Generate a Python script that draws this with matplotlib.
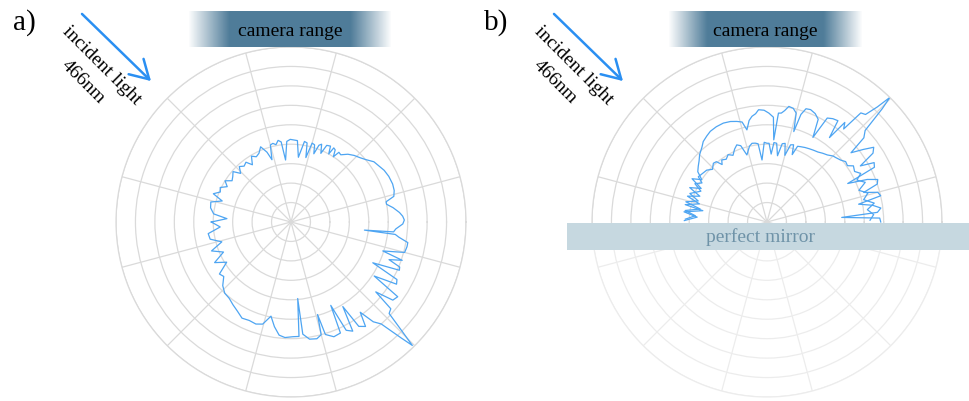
import numpy as np
import matplotlib
matplotlib.use('Agg')
import matplotlib.pyplot as plt
from matplotlib.patches import Rectangle, FancyArrowPatch

# ---- data (angle in deg, radius in ring units, outer ring = 9) ----
a_theta = [-180, -176, -172, -168, -164, -160, -156, -152, -148, -144, -141, -137, -133, -129,
           -125, -121, -117, -113, -109, -105.5, -102, -99, -96, -93, -89, -86, -85, -84, -81,
           -77.5, -75, -74, -73, -69.5, -66, -64.5, -63, -60.5, -58.5, -57, -54.5, -52.5, -50.5,
           -48.5, -46.5, -45.5, -44.5, -43, -41, -39.5, -37.5, -35, -33, -30.5, -28.5, -26.5,
           -24, -22.5, -21, -19, -17.5, -15, -12, -10, -8, -6.8, -6.3, -5.5, -3.8, -1, 1, 3, 5,
           8, 10.5, 12, 14, 17, 20.5, 25, 29, 33, 36, 40, 43, 46.5, 50, 53.5, 55.5, 57, 58.5,
           60, 61, 62.5, 65, 66.5, 68.5, 70, 71.5, 73, 75, 77, 78.5, 80.5, 83.5, 85.5, 88,
           90.5, 93, 95, 97, 99, 101, 103, 105, 107, 109, 112, 115, 118, 121, 124, 127, 130,
           133, 136, 139, 142, 145, 148, 151, 154, 157, 160, 163, 166, 170, 174, 177, 180]
a_r = [4.10, 3.65, 4.30, 4.25, 3.70, 4.35, 3.80, 4.45, 3.90, 4.55, 4.45, 4.80, 5.00, 5.05,
       5.20, 5.35, 5.55, 5.50, 5.55, 5.45, 4.95, 5.45, 5.85, 5.95, 5.90, 5.90, 3.95, 5.80, 6.10,
       6.15, 6.00, 4.95, 6.05, 6.30, 6.25, 4.75, 6.25, 6.45, 5.10, 6.40, 6.60, 5.85, 6.65,
       7.00, 8.20, 8.90, 8.00, 6.90, 6.80, 5.65, 6.60, 6.70, 5.10, 6.30, 6.20, 4.70,
       6.10, 6.05, 5.40, 6.05, 4.95, 6.05, 6.10, 6.10, 5.60, 5.40, 3.80, 5.30, 5.40, 5.75, 5.83, 5.75, 5.60,
       5.30, 5.00, 5.00, 5.45, 5.55, 5.58, 5.55, 5.48, 5.35, 5.27, 5.00, 4.85, 4.72, 4.55, 4.30, 4.35, 4.00, 4.35,
       4.40, 4.00, 4.40, 4.35, 3.85, 4.30, 4.20, 3.70, 4.15, 4.20, 3.40, 4.15, 4.20, 3.35, 4.20, 4.22,
       4.25, 4.15, 3.20, 4.15, 4.25, 4.05, 4.15, 4.10, 3.35, 3.80, 4.17, 3.90, 3.80, 3.95, 3.55, 3.85, 3.75,
       3.90, 3.60, 3.95, 3.80, 3.70, 4.00, 3.75, 4.05, 3.95, 4.25, 3.70, 4.25, 4.20, 4.00, 3.30, 4.10]

b_out_theta = [0, 2, 3.5, 5, 7, 9, 11, 13, 15, 17, 19, 21, 23, 25.5, 27, 29, 31, 33, 35, 37,
               39.5, 41, 43, 44.5, 45.4, 46.2, 47.5, 49.3, 50.5, 52, 53.5, 55, 57.5, 59.9, 61.5,
               63.5, 66, 68.8, 71, 72.5, 73.5, 75, 77, 79.3, 81, 82.5, 84, 85.3, 86.5, 89, 91.5,
               94.3, 96, 98.1, 100, 102.3, 104, 106.7, 110, 113.8, 118, 122, 125, 128.4, 131, 135,
               138, 141, 144, 147, 150, 153, 156, 159, 162, 165, 168, 170, 173, 176, 179]
b_out_r = [5.85, 5.80, 3.85, 5.70, 5.90, 5.50, 4.80, 6.00, 5.90, 5.20, 6.00, 6.10, 5.60, 4.60, 6.20, 6.30, 5.60, 6.50, 6.70, 6.20,
           5.60, 6.60, 6.90, 8.30, 9.00, 8.20, 7.50, 7.40, 6.20, 6.50, 5.40, 6.36, 6.30, 6.18, 4.95,
           5.90, 6.10, 6.20, 6.16, 5.80, 4.85, 5.80, 6.00, 6.05, 5.80, 5.65, 5.63, 4.24, 5.40, 5.60, 5.75,
           5.79, 5.60, 5.49, 5.30, 4.85, 5.30, 5.40, 5.50, 5.56, 5.55, 5.50, 5.40, 5.28, 5.10, 4.90,
           4.70, 4.55, 4.40, 4.00, 4.45, 3.80, 4.35, 3.70, 4.30, 3.60, 4.30, 3.35, 4.30, 3.60, 4.25]

b_in_theta = [1, 4, 7, 10, 13, 16, 19, 22, 25, 27.4, 30, 33, 35, 37.5, 40, 43, 45, 48, 51, 54, 57,
              60, 63, 66, 68, 69.5, 71, 73, 75, 77, 79, 81, 83, 85, 86.5, 88.5, 90, 92, 94.6, 96.5,
              98.5, 100.8, 103, 106.7, 109, 111.4, 114, 117, 120, 123, 126.1, 128, 130, 132.4, 136,
              139.3, 143, 146.6, 149, 152, 155, 159.7, 163, 166, 169, 172, 175, 178]
b_in_r = [5.30, 5.50, 5.20, 5.60, 5.10, 5.40, 5.00, 5.45, 5.10, 5.43, 5.20, 5.30, 5.05, 5.10, 4.95, 4.85, 4.80, 4.64, 4.55, 4.45, 4.40,
          4.35, 4.30, 4.24, 4.20, 3.70, 4.20, 4.15, 3.55, 4.15, 4.10, 3.45, 4.08, 4.10, 3.50, 4.05, 4.05, 4.10, 3.20, 4.05,
          4.10, 4.12, 4.00, 3.60, 4.15, 4.26, 4.10, 3.85, 4.00, 3.85, 3.95, 3.75, 4.05, 4.09, 3.90,
          4.09, 4.15, 4.23, 3.90, 4.20, 3.75, 4.23, 3.70, 4.30, 3.50, 4.25, 3.70, 4.20]

W, H = 969, 402
LINE_C = '#4ea5f2'
GRID_C = '#dadada'
ARROW_C = '#2a8ff2'
BAR_C = (0.31, 0.49, 0.60)
SERIF = ['Liberation Serif', 'DejaVu Serif']

fig = plt.figure(figsize=(W/100, H/100), dpi=100)

def fx(x): return x/W
def fy(y): return 1 - y/H

def polar_panel(cx, cy, rad=175):
  ax = fig.add_axes([fx(cx-rad), fy(cy+rad), 2*rad/W, 2*rad/H], projection='polar')
  ax.set_ylim(0, 9)
  ax.set_rgrids(np.arange(1, 10), labels=[''] * 9)
  ax.set_thetagrids(np.arange(15, 360, 30), labels=[''] * 12)
  ax.grid(True, color=GRID_C, lw=0.9)
  ax.spines['polar'].set_color(GRID_C)
  ax.spines['polar'].set_linewidth(0.9)
  ax.tick_params(length=0)
  ax.set_facecolor('none')
  return ax

# panel a
axa = polar_panel(291, 223)
th = np.deg2rad(a_theta)
axa.plot(np.append(th, th[0]), np.append(a_r, a_r[0]), color=LINE_C, lw=0.9)

# panel b
axb = polar_panel(767, 223)
axb.plot(np.deg2rad(b_out_theta), b_out_r, color=LINE_C, lw=0.9)
axb.plot(np.deg2rad(b_in_theta), b_in_r, color=LINE_C, lw=0.9)

# fade the lower half of panel b, then the mirror band
fig.patches.append(Rectangle((fx(585), fy(402)), fx(365), (402-250)/H, transform=fig.transFigure,
                             facecolor='white', alpha=0.5, edgecolor='none', zorder=1))
fig.patches.append(Rectangle((fx(567), fy(251)), fx(W-567), 27/H, transform=fig.transFigure,
                             facecolor='#c6d8e0', edgecolor='none', zorder=2))
fig.text(fx(760), fy(237), 'perfect mirror', ha='center', va='center', fontsize=14,
         family=SERIF, color='#6f93a8')

# camera range bars (fade at both ends)
def camera_bar(x0, x1, y0=12, y1=48):
  bax = fig.add_axes([fx(x0), fy(y1), (x1-x0)/W, (y1-y0)/H])
  n = 200
  t = np.linspace(0, 1, n)
  alpha = np.clip(np.minimum(t, 1-t)/0.2, 0, 1)
  img = np.zeros((1, n, 4))
  img[0, :, :3] = BAR_C
  img[0, :, 3] = alpha
  bax.imshow(img, aspect='auto', extent=[0, 1, 0, 1])
  bax.axis('off')
  fig.text(fx((x0+x1)/2), fy((y0+y1)/2+1), 'camera range', ha='center', va='center',
           fontsize=14, family=SERIF, color='black')

camera_bar(188, 392)
camera_bar(668, 863)

# panel labels, incident light arrows
for dx, dy, lab in [(0, 0, 'a)'), (472, 0, 'b)')]:
  fig.text(fx(24+dx), fy(23+dy), lab, ha='center', va='center', fontsize=21, family=SERIF)
  arr = FancyArrowPatch((fx(80+dx), fy(13+dy)), (fx(153+dx), fy(84+dy)),
                        transform=fig.transFigure, arrowstyle='->,head_length=0.6,head_width=0.35',
                        mutation_scale=22, lw=1.8, color=ARROW_C)
  fig.patches.append(arr)
  fig.text(fx(102+dx), fy(66+dy), 'incident light', ha='center', va='center', rotation=-45,
           rotation_mode='anchor', fontsize=14, family=SERIF)
  fig.text(fx(83+dx), fy(82+dy), '466nm', ha='center', va='center', rotation=-45,
           rotation_mode='anchor', fontsize=14, family=SERIF)

fig.savefig('out.png', dpi=100)
